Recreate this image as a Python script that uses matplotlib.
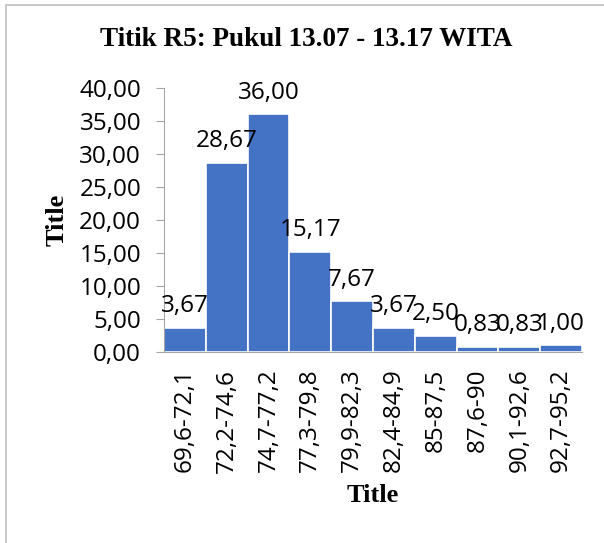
import matplotlib
matplotlib.use("Agg")
import matplotlib.pyplot as plt
from matplotlib.patches import Rectangle

# class intervals and their percentages
classes = ["69,6-72,1", "72,2-74,6", "74,7-77,2", "77,3-79,8", "79,9-82,3",
           "82,4-84,9", "85-87,5", "87,6-90", "90,1-92,6", "92,7-95,2"]
values = [3.67, 28.67, 36.00, 15.17, 7.67, 3.67, 2.50, 0.83, 0.83, 1.00]
yticks = [0, 5, 10, 15, 20, 25, 30, 35, 40]

SANS = "Open Sans"
SERIF = "Liberation Serif"
FS = 17.5

fig = plt.figure(figsize=(6.04, 5.43), dpi=100)
ax = fig.add_axes([164 / 604, 1 - 352 / 543, 418 / 604, 264 / 543])

x = range(len(values))
ax.bar(x, values, width=1.0, color="#4472C4", edgecolor="white", linewidth=1.2)

for i, v in enumerate(values):
    ax.annotate(f"{v:.2f}".replace(".", ","), (i, v), xytext=(0, 7),
                textcoords="offset points", ha="center", va="bottom",
                fontsize=FS, family=SANS)

ax.set_xlim(-0.5, len(values) - 0.5)
ax.set_ylim(0, 40)
ax.set_yticks(yticks)
ax.set_yticklabels([f"{t:.2f}".replace(".", ",") for t in yticks],
                   fontsize=FS, family=SANS)
ax.set_xticks(list(x))
ax.set_xticklabels(classes, rotation=90, fontsize=FS, family=SANS)
ax.tick_params(axis="x", length=0, pad=12)
ax.tick_params(axis="y", length=5.5, color="#a6a6a6", pad=11)

for side in ["top", "right"]:
    ax.spines[side].set_visible(False)
ax.spines["left"].set_color("#a6a6a6")
ax.spines["bottom"].set_color("#a6a6a6")

ax.set_xlabel("Title", fontsize=19, family=SERIF, weight="bold", labelpad=8)
ax.set_ylabel("Title", fontsize=19, family=SERIF, weight="bold", labelpad=8)
fig.suptitle("Titik R5: Pukul 13.07 - 13.17 WITA", x=306 / 604, y=1 - 27 / 543,
             fontsize=19.5, family=SERIF, weight="bold", va="top")

# outer frame of the chart area
fig.patches.append(Rectangle((6 / 604, -0.01), 1.0, 1 - 5 / 543 + 0.01,
                             transform=fig.transFigure, fill=False,
                             edgecolor="#bfbfbf", linewidth=1.2))

fig.savefig("out.png", dpi=100)
